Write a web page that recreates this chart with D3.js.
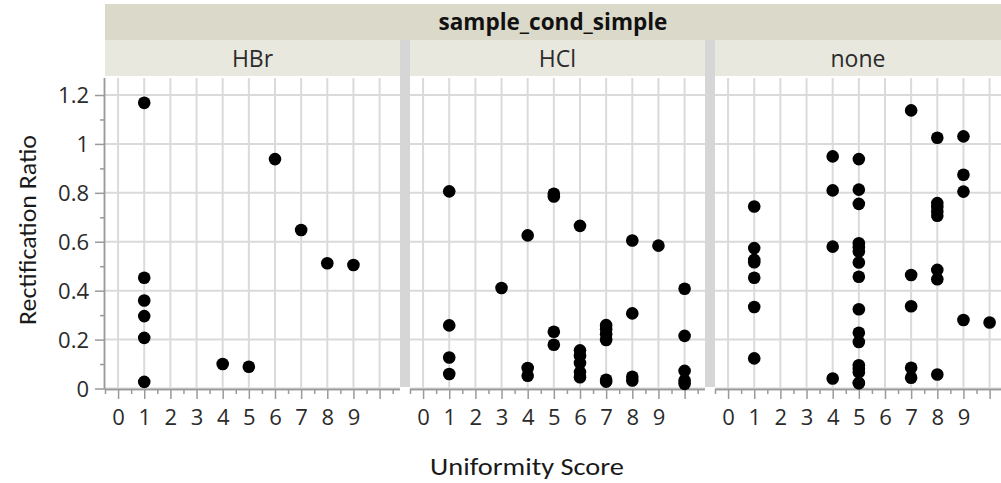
<!DOCTYPE html>
<html>
<head>
<meta charset="utf-8">
<script src="https://cdn.jsdelivr.net/npm/d3@7"></script>
<style>
  html, body { margin: 0; padding: 0; background: #fff; }
  svg { display: block; }
  .tick-label { font-family: "Segoe UI", "Open Sans", sans-serif; font-size: 22px; fill: #2b2b2b; }
  .axis-title { font-family: Calibri, Lato, "Open Sans", sans-serif; font-size: 25px; fill: #1a1a1a; }
  .strip-title { font-family: "Segoe UI", "Open Sans", sans-serif; font-size: 22.5px; font-weight: bold; fill: #111; }
  .strip-label { font-family: "Segoe UI", "Open Sans", sans-serif; font-size: 23px; fill: #2b2b2b; }
</style>
</head>
<body>
<svg id="chart" width="1001" height="483"></svg>
<script>
// Facet groups (sample_cond_simple)
const panels = ["HBr", "HCl", "none"];

// Uniformity score / rectification ratio per group
const hbrScore = [1, 1, 1, 1, 1, 1, 4, 5, 6, 7, 8, 9];
const hbrRatio = [1.168, 0.453, 0.36, 0.296, 0.207, 0.027, 0.10, 0.089, 0.938, 0.648, 0.512, 0.505];

const hclScore = [1, 1, 1, 1,
                  3,
                  4, 4, 4,
                  5, 5, 5, 5,
                  6, 6, 6, 6, 6, 6,
                  7, 7, 7, 7, 7, 7,
                  8, 8, 8, 8,
                  9,
                  10, 10, 10, 10, 10];
const hclRatio = [0.806, 0.258, 0.127, 0.059,
                  0.411,
                  0.626, 0.084, 0.052,
                  0.796, 0.785, 0.232, 0.179,
                  0.665, 0.156, 0.133, 0.104, 0.067, 0.046,
                  0.259, 0.242, 0.222, 0.198, 0.036, 0.028,
                  0.605, 0.307, 0.048, 0.033,
                  0.584,
                  0.408, 0.215, 0.072, 0.033, 0.019];

const noneScore = [1, 1, 1, 1, 1, 1, 1,
                   4, 4, 4, 4,
                   5, 5, 5, 5, 5, 5, 5, 5, 5, 5, 5, 5, 5, 5, 5, 5,
                   7, 7, 7, 7, 7,
                   8, 8, 8, 8, 8, 8, 8, 8,
                   9, 9, 9, 9,
                   10];
const noneRatio = [0.744, 0.574, 0.526, 0.516, 0.453, 0.333, 0.123,
                   0.949, 0.81, 0.58, 0.041,
                   0.938, 0.813, 0.755, 0.594, 0.578, 0.56, 0.515, 0.457, 0.324, 0.228, 0.19, 0.095, 0.08, 0.066, 0.022, 0.022,
                   1.137, 0.464, 0.336, 0.085, 0.044,
                   1.025, 0.758, 0.742, 0.724, 0.706, 0.485, 0.447, 0.057,
                   1.031, 0.874, 0.805, 0.28,
                   0.27];

// Axis ticks
const xTickValues = [0, 1, 2, 3, 4, 5, 6, 7, 8, 9, 10];
const xTickLabels = ["0", "1", "2", "3", "4", "5", "6", "7", "8", "9", ""];
const yTickValues = [0, 0.2, 0.4, 0.6, 0.8, 1, 1.2];
const yTickLabels = ["0", "0.2", "0.4", "0.6", "0.8", "1", "1.2"];

const seriesByPanel = {
  HBr: { score: hbrScore, ratio: hbrRatio },
  HCl: { score: hclScore, ratio: hclRatio },
  none: { score: noneScore, ratio: noneRatio }
};

const W = 1001, H = 483;
const svg = d3.select("#chart");

// Layout
const firstLeft = 105, panelW = 295, panelGap = 10;
const titleTop = 4, titleBottom = 40, stripBottom = 76;
const plotTop = 78, plotBottom = 389;

const y = d3.scaleLinear().domain([0, 1.2]).range([388.5, 95]);
const xBase = d3.scaleLinear().domain([-0.5, 10.78]).range([0, panelW]);

// Overall strip title
svg.append("rect")
  .attr("x", firstLeft).attr("y", titleTop)
  .attr("width", W - firstLeft).attr("height", titleBottom - titleTop)
  .attr("fill", "#dbd9c9");
svg.append("text")
  .attr("class", "strip-title")
  .attr("x", (firstLeft + W) / 2).attr("y", 30)
  .attr("text-anchor", "middle")
  .text("sample_cond_simple");

// Gray separators between panels
for (let i = 1; i < panels.length; i++) {
  const sx = firstLeft + i * (panelW + panelGap) - panelGap;
  svg.append("rect")
    .attr("x", sx).attr("y", titleBottom)
    .attr("width", panelGap).attr("height", 387 - titleBottom)
    .attr("fill", "#d6d6d6");
}

panels.forEach((name, i) => {
  const left = firstLeft + i * (panelW + panelGap);
  const visW = Math.min(panelW, W - left);
  const x = xBase.copy().range([left, left + panelW]);
  const g = svg.append("g");

  // panel strip
  g.append("rect")
    .attr("x", left).attr("y", titleBottom)
    .attr("width", visW).attr("height", stripBottom - titleBottom)
    .attr("fill", "#e9e8de");
  g.append("text")
    .attr("class", "strip-label")
    .attr("x", left + visW / 2).attr("y", 67)
    .attr("text-anchor", "middle")
    .text(name);

  // plot background
  g.append("rect")
    .attr("x", left).attr("y", plotTop)
    .attr("width", panelW).attr("height", plotBottom - plotTop)
    .attr("fill", "#fff");

  // gridlines
  g.append("g").selectAll("line").data(xTickValues).join("line")
    .attr("x1", d => x(d)).attr("x2", d => x(d))
    .attr("y1", plotTop).attr("y2", plotBottom)
    .attr("stroke", "#dadada").attr("stroke-width", 2);
  g.append("g").selectAll("line").data(yTickValues).join("line")
    .attr("x1", left).attr("x2", left + panelW)
    .attr("y1", d => y(d)).attr("y2", d => y(d))
    .attr("stroke", "#dadada").attr("stroke-width", 2);

  // x axis: minor ticks at half units, major ticks at integers
  const minorVals = d3.range(-0.5, 10.6, 1);
  const xMinor = d3.axisBottom(x).tickValues(minorVals).tickSize(5).tickFormat("");
  const xMajor = d3.axisBottom(x).tickValues(xTickValues).tickSize(10)
    .tickFormat((d, k) => xTickLabels[k]);
  const ax = g.append("g").attr("transform", `translate(0,${plotBottom})`);
  ax.append("g").call(xMinor);
  const axMaj = ax.append("g").call(xMajor);
  ax.selectAll(".domain").attr("stroke", "#9a9a9a").attr("stroke-width", 1.5)
    .attr("d", `M${left},0.5H${left + panelW}`);
  ax.selectAll(".tick line").attr("stroke", "#9a9a9a").attr("stroke-width", 1.5);
  axMaj.selectAll(".tick text")
    .attr("class", "tick-label")
    .attr("y", 20).attr("dy", "0.71em");

  // points
  const s = seriesByPanel[name];
  g.append("g").selectAll("circle").data(s.score).join("circle")
    .attr("cx", d => x(d))
    .attr("cy", (d, k) => y(s.ratio[k]))
    .attr("r", 6.3)
    .attr("fill", "#000");
});

// y axis on the first panel
const yMinor = d3.axisLeft(y).tickValues(d3.range(0.1, 1.25, 0.2)).tickSize(5).tickFormat("");
const yMajor = d3.axisLeft(y).tickValues(yTickValues).tickSize(10)
  .tickFormat((d, k) => yTickLabels[k]);
const ay = svg.append("g").attr("transform", `translate(${firstLeft},0)`);
ay.append("g").call(yMinor);
const ayMaj = ay.append("g").call(yMajor);
ay.selectAll(".domain").attr("stroke", "#9a9a9a").attr("stroke-width", 1.5)
  .attr("d", `M-0.5,${plotTop}V${plotBottom}`);
ay.selectAll(".tick line").attr("stroke", "#9a9a9a").attr("stroke-width", 1.5);
ayMaj.selectAll(".tick text").attr("class", "tick-label").attr("x", -16).attr("dy", "0.35em");

// axis titles
svg.append("text")
  .attr("class", "axis-title")
  .attr("x", 527).attr("y", 475)
  .attr("text-anchor", "middle")
  .attr("textLength", 194).attr("lengthAdjust", "spacingAndGlyphs")
  .text("Uniformity Score");
svg.append("text")
  .attr("class", "axis-title")
  .attr("transform", "translate(36,230) rotate(-90)")
  .attr("text-anchor", "middle")
  .attr("textLength", 190).attr("lengthAdjust", "spacingAndGlyphs")
  .text("Rectification Ratio");
</script>
</body>
</html>
